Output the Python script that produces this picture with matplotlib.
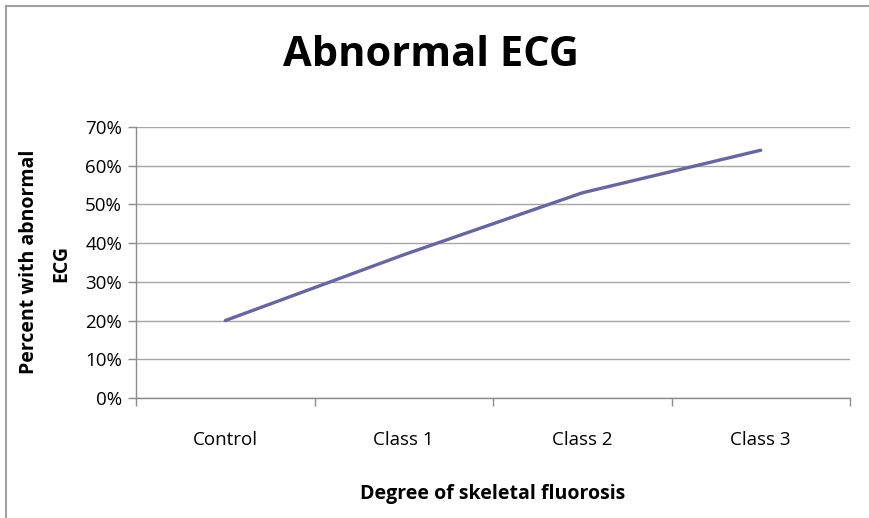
import matplotlib
matplotlib.use("Agg")
import matplotlib.pyplot as plt
from matplotlib.ticker import FuncFormatter, FixedLocator
from matplotlib.lines import Line2D

categories = ["Control", "Class 1", "Class 2", "Class 3"]
values = [0.20, 0.37, 0.53, 0.64]
yticks = [0.0, 0.1, 0.2, 0.3, 0.4, 0.5, 0.6, 0.7]

plt.rcParams['font.family'] = ['Open Sans', 'DejaVu Sans']

W, H = 869, 518
fig = plt.figure(figsize=(W/100, H/100), dpi=100)
ax = fig.add_axes([136/W, 1-398/H, (850-136)/W, (398-127)/H])

x = list(range(len(categories)))
ax.plot(x, values, color='#6666A6', lw=2.4, solid_capstyle='round', zorder=3)

ax.set_xlim(-0.5, len(categories)-0.5)
ax.set_ylim(0, 0.7)
ax.set_yticks(yticks)
ax.yaxis.set_major_formatter(FuncFormatter(lambda v, p: f"{round(v*100)}%"))
ax.grid(axis='y', color='#A6A6A6', lw=1)
ax.set_axisbelow(True)

ax.set_xticks(x)
ax.set_xticklabels(categories)
ax.xaxis.set_minor_locator(FixedLocator([i - 0.5 for i in range(len(categories)+1)]))
ax.tick_params(axis='x', which='major', length=0, pad=24, labelsize=13.5, colors='#000000')
ax.tick_params(axis='x', which='minor', length=6, color='#8C8C8C', width=1)
ax.tick_params(axis='y', length=6, color='#8C8C8C', width=1, labelsize=13.5, pad=4)

for s in ['top', 'right']:
    ax.spines[s].set_visible(False)
for s in ['left', 'bottom']:
    ax.spines[s].set_color('#8C8C8C')
    ax.spines[s].set_linewidth(1)

fig.text(431/W, 1-55/H, "Abnormal ECG", ha='center', va='center', fontsize=30, fontweight='bold')
fig.text(29/W, 1-262/H, "Percent with abnormal", ha='center', va='center', rotation=90,
         fontsize=14, fontweight='bold')
fig.text(61/W, 1-263/H, "ECG", ha='center', va='center', rotation=90,
         fontsize=14, fontweight='bold')
fig.text(493/W, 1-494/H, "Degree of skeletal fluorosis", ha='center', va='center',
         fontsize=14, fontweight='bold')

fig.add_artist(Line2D([5.5/W, 5.5/W], [0, 1-5.5/H], color='#A0A0A0', lw=1.5, transform=fig.transFigure))
fig.add_artist(Line2D([5.5/W, 1], [1-5.5/H, 1-5.5/H], color='#A0A0A0', lw=1.5, transform=fig.transFigure))

fig.savefig("out.png", dpi=100)
